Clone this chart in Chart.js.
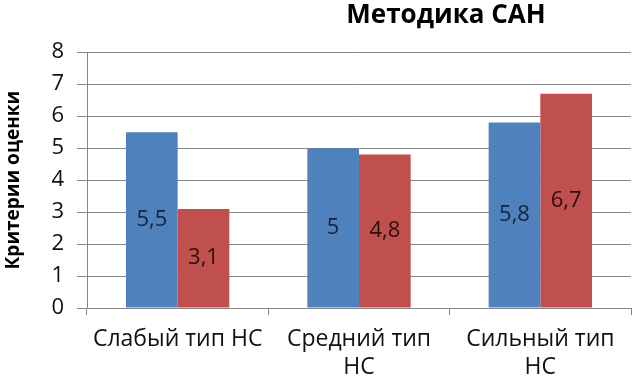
<!DOCTYPE html>
<html>
<head>
<meta charset="utf-8">
<script src="https://cdn.jsdelivr.net/npm/chart.js@4/dist/chart.umd.min.js"></script>
<style>
    html, body { margin: 0; padding: 0; background: #fff; overflow: hidden; }
    #wrap { width: 892px; height: 377px; }
</style>
</head>
<body>
<div id="wrap"><canvas id="sanChart"></canvas></div>
<script>
// Методика САН - grouped bars

const categories = ['Слабый тип НС', ['Средний тип', 'НС'], ['Сильный тип', 'НС']];
const seriesBlue = [5.5, 5, 5.8];
const seriesRed = [3.1, 4.8, 6.7];
const yTicks = [0, 1, 2, 3, 4, 5, 6, 7, 8];

const fontFamily = "'Open Sans', 'Noto Sans', sans-serif";

// Value labels in the middle of each bar, with a decimal comma
const barValueLabels = {
    id: 'barValueLabels',
    afterDatasetsDraw(chart) {
        const ctx = chart.ctx;
        ctx.save();
        ctx.font = '22px ' + fontFamily;
        ctx.textAlign = 'center';
        ctx.textBaseline = 'middle';
        chart.data.datasets.forEach((ds, i) => {
            const meta = chart.getDatasetMeta(i);
            meta.data.forEach((bar, j) => {
                const text = String(ds.data[j]).replace('.', ',');
                ctx.fillStyle = ds.labelColor;
                ctx.fillText(text, bar.x, (bar.y + bar.base) / 2);
            });
        });
        ctx.restore();
    }
};

new Chart(document.getElementById('sanChart').getContext('2d'), {
    type: 'bar',
    data: {
        labels: categories,
        datasets: [
            {
                label: 'Ряд 1',
                data: seriesBlue,
                backgroundColor: '#4F81BD',
                labelColor: '#15243a',
                barPercentage: 1,
                categoryPercentage: 0.57
            },
            {
                label: 'Ряд 2',
                data: seriesRed,
                backgroundColor: '#C0504D',
                labelColor: '#2a0f0f',
                barPercentage: 1,
                categoryPercentage: 0.57
            }
        ]
    },
    options: {
        responsive: true,
        maintainAspectRatio: false,
        animation: false,
        layout: { padding: 0 },
        plugins: {
            legend: { display: false },
            tooltip: { enabled: false },
            title: {
                display: true,
                text: 'Методика САН',
                color: '#000',
                font: { family: fontFamily, size: 26, weight: 'bold' },
                padding: { top: 0, bottom: 21 }
            }
        },
        scales: {
            x: {
                grid: {
                    offset: true,
                    drawOnChartArea: false,
                    drawTicks: true,
                    tickLength: 7,
                    color: '#878787'
                },
                border: { color: '#878787' },
                ticks: {
                    color: '#111',
                    padding: 11,
                    maxRotation: 0,
                    autoSkip: false,
                    font: { family: fontFamily, size: 23 }
                },
                afterFit: s => { s.height = 69; }
            },
            y: {
                min: 0,
                max: 8,
                afterBuildTicks: s => { s.ticks = yTicks.map(v => ({ value: v })); },
                grid: { color: '#878787', tickLength: 10 },
                border: { color: '#878787' },
                ticks: {
                    color: '#111',
                    padding: 13,
                    font: { family: fontFamily, size: 22 }
                },
                title: {
                    display: true,
                    text: 'Критерии оценки',
                    color: '#000',
                    font: { family: fontFamily, size: 19, weight: 'bold' },
                    padding: { top: 2, bottom: 0 }
                },
                afterFit: s => { s.width = 87; }
            },
            // empty strip on the right, where the cropped-out legend used to be
            side: {
                type: 'linear',
                position: 'right',
                display: true,
                grid: { display: false },
                border: { display: false },
                ticks: { display: false },
                afterFit: s => { s.width = 261; }
            }
        }
    },
    plugins: [barValueLabels]
});
</script>
</body>
</html>
